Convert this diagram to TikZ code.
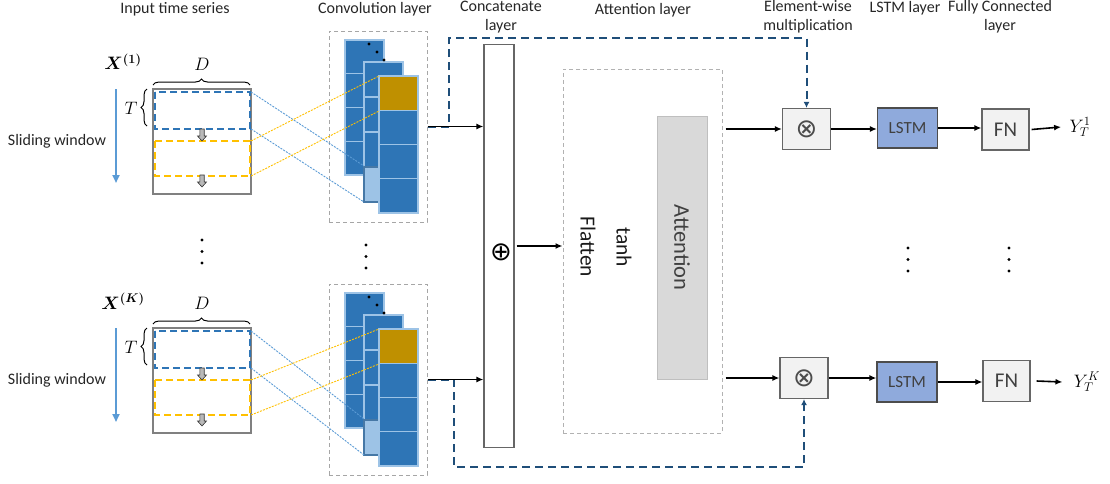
\RequirePackage{fix-cm}
\documentclass[tikz,border=0pt]{standalone}
\usepackage{fontspec}
\setmainfont{Carlito}
\newfontfamily\opsymfont{DejaVu Sans}
\usepackage{bm}
\usetikzlibrary{arrows.meta,decorations.pathreplacing,calc}

\definecolor{fmblue}{HTML}{2E75B6}
\definecolor{fmedge}{HTML}{9DC3E6}
\definecolor{fmlite}{HTML}{9DC3E6}
\definecolor{fmgold}{HTML}{BF9000}
\definecolor{winyel}{HTML}{FFC000}
\definecolor{slideblue}{HTML}{5B9BD5}
\definecolor{skipblue}{HTML}{1F4E79}
\definecolor{lstmblue}{HTML}{8FAADC}
\definecolor{opfill}{HTML}{F2F2F2}
\definecolor{attfill}{HTML}{D9D9D9}

\tikzset{
  hdr/.style={font=\fontsize{16}{19}\selectfont, align=center, text=black!85},
  varlbl/.style={font=\fontsize{18}{18}\selectfont},
  window/.style={draw=gray, line width=2.5pt},
  winb/.style={draw=fmblue, line width=1.6pt, dash pattern=on 7pt off 4pt},
  winy/.style={draw=winyel, line width=1.6pt, dash pattern=on 7pt off 4pt},
  slide/.style={draw=slideblue, line width=2pt, -{Triangle[length=8pt,width=7pt]}},
  brace/.style={decorate, decoration={brace, amplitude=6pt}, line width=1pt},
  fmcell/.style={fill=fmblue, draw=fmedge, line width=1.2pt},
  fmlight/.style={fill=fmlite, draw=fmblue!70!gray, line width=1.2pt},
  fmtop/.style={fill=fmgold, draw=fmedge, line width=1.2pt},
  blink/.style={draw=slideblue, line width=0.9pt, dash pattern=on 2pt off 1.2pt},
  ylink/.style={draw=winyel, line width=0.9pt, dash pattern=on 2pt off 1.2pt},
  convbox/.style={draw=gray!70, line width=1pt, dash pattern=on 4pt off 3pt,
    minimum width=98pt, minimum height=191pt},
  catbox/.style={draw=gray!80!black, line width=1.2pt, fill=white,
    minimum width=30pt, minimum height=403pt},
  attbox/.style={draw=gray!60, line width=1pt, dash pattern=on 4pt off 3pt,
    minimum width=159pt, minimum height=364pt},
  attin/.style={fill=attfill, draw=gray!50, line width=1pt, rotate=-90,
    minimum width=263pt, minimum height=50pt, text=black!75,
    font=\fontsize{22.5}{22.5}\selectfont},
  rot/.style={rotate=-90, font=\fontsize{21.5}{21.5}\selectfont, text=black!90},
  opsym/.style={font=\opsymfont\fontsize{26}{26}\selectfont},
  opbox/.style={fill=opfill, draw=gray!80!black, line width=1.2pt,
    minimum width=48pt, minimum height=41pt, text=black!75,
    font=\fontsize{21}{21}\selectfont},
  lstmbox/.style={fill=lstmblue, draw=black!70, line width=1.2pt,
    minimum width=60pt, minimum height=40pt, text=black!75,
    font=\fontsize{17}{17}\selectfont},
  conn/.style={line width=1.6pt, -{Latex[length=7pt,width=6pt]}},
  skip/.style={draw=skipblue, line width=2pt, dash pattern=on 8pt off 5pt,
    -{Latex[length=6pt,width=6pt]}},
  pics/dnarrow/.style={code={
    \draw[fill=gray!55, draw=gray!40!black, line width=0.6pt]
      (-2.2,-6) -- (2.2,-6) -- (2.2,1) -- (4.5,1) -- (0,6) -- (-4.5,1) -- (-2.2,1) -- cycle;}}
}

\begin{document}
\begin{tikzpicture}[x=1pt, y=-1pt]
\useasboundingbox (0,0) rectangle (1110,483);

% headers
\node[hdr] (hin) at (175,9) {Input time series};
\node[hdr] (hconv) at (375,9) {Convolution layer};
\node[hdr] (hcat) at (501,17) {Concatenate\\layer};
\node[hdr] (hatt) at (643,10) {Attention layer};
\node[hdr] (hmul) at (808,17) {Element-wise\\multiplication};
\node[hdr] (hlstm) at (905,8) {LSTM layer};
\node[hdr] (hfc) at (1000,17) {Fully Connected\\layer};

% concatenate bar
\node[catbox] (cat) at (499,246) {};
\node[opsym] (plus) at (501,252) {⊕};

% input windows and conv maps
\foreach \k/\di/\dc in {1/0/0, K/239/253}{
  \begin{scope}[yshift=-\di pt]
    \node[hdr] (sw\k) at (57,141) {Sliding window};
    \draw[slide] (116,89) -- (116,183);
    \node[varlbl] (x\k) at (123,62) {$\bm{X^{(\k)}}$};
    \node[varlbl] (d\k) at (202,64) {$D$};
    \draw[brace] (153,85) -- (250,85);
    \draw[window] (153,89) rectangle (251,194);
    \draw[winb] (155,92) rectangle (250,129);
    \draw[winy] (155,141) rectangle (250,176);
    \draw[brace] (147,126) -- (147,89);
    \node[varlbl] (t\k) at (131,108) {$T$};
    \pic at (202,135) {dnarrow};
    \pic at (202,181) {dnarrow};
    \coordinate (wa\k) at (251,92);
    \coordinate (wb\k) at (251,129);
    \coordinate (wc\k) at (251,141);
    \coordinate (wd\k) at (251,176);
  \end{scope}
  \begin{scope}[yshift=-\dc pt]
    \node[convbox] (conv\k) at (378,126.5) {};
    \foreach \yy in {40,73.75,107.5,141.25}
      \draw[fmcell] (345,\yy) rectangle +(39,33.75);
    \foreach \yy in {62,97,132}
      \draw[fmcell] (364,\yy) rectangle +(39,35);
    \draw[fmlight] (364,167) rectangle +(39,35);
    \draw[fmtop] (379,76) rectangle +(39,34.25);
    \foreach \yy in {110.25,144.5,178.75}
      \draw[fmcell] (379,\yy) rectangle +(39,34.25);
    \fill (369,44) circle (1.7pt) (377,52) circle (1.7pt) (384,60) circle (1.7pt);
    \coordinate (ca\k) at (364,166);
    \coordinate (cb\k) at (364,202);
    \coordinate (cc\k) at (379,76);
    \coordinate (cd\k) at (379,111);
  \end{scope}
  \draw[blink] (wa\k) -- (ca\k);
  \draw[blink] (wb\k) -- (cb\k);
  \draw[ylink] (wc\k) -- (cc\k);
  \draw[ylink] (wd\k) -- (cd\k);
}

% vertical dots
\foreach \xx/\yy in {202/240, 366/245, 908/248, 1009/248}
  \fill (\xx,\yy) circle (1.7pt) (\xx,\yy+11.5) circle (1.7pt) (\xx,\yy+23) circle (1.7pt);

% attention layer
\node[attbox] (att) at (642.5,251) {};
\node[rot] (flat) at (588,247) {Flatten};
\node[rot] (tanh) at (624,247) {tanh};
\node[attin] (attn) at (682,247.5) {Attention};

% right part
\node[opbox, opsym, text=black!70] (mul1) at (806.5,129) {⊗};
\node[lstmbox] (lstm1) at (907.5,128) {LSTM};
\node[opbox, minimum width=47pt] (fn1) at (1005.5,129.5) {FN};
\node[varlbl] (y1) at (1080,127) {$Y_T^1$};
\node[opbox, opsym, text=black!70] (mulK) at (804,378) {⊗};
\node[lstmbox] (lstmK) at (907,382) {LSTM};
\node[opbox, minimum width=47pt] (fnK) at (1006.5,381) {FN};
\node[varlbl] (yK) at (1087,382) {$Y_T^K$};

% skip connections
\draw[skip] (conv1.east) -- (449,126.5) |- (806.5,38) -- (mul1.north);
\draw[skip] (convK.east) -- (454,379.5) |- (804,467) -- (mulK.south);

% connectors
\draw[conn] (conv1.east) -- (conv1.east -| cat.west);
\draw[conn] (convK.east) -- (convK.east -| cat.west);
\draw[conn] ($(cat.east)+(2,0)$) -- (att.west |- cat.east);
\draw[conn] ($(att.east |- mul1.west)+(3,0)$) -- (mul1.west);
\draw[conn] ($(att.east |- mulK.west)+(3,0)$) -- (mulK.west);
\draw[conn] (mul1.east) -- (mul1.east -| lstm1.west);
\draw[conn] (mulK.east) -- (mulK.east -| lstmK.west);
\draw[conn] (lstm1.east) -- (lstm1.east -| fn1.west);
\draw[conn] (lstmK.east) -- (lstmK.east -| fnK.west);
\draw[conn] ($(fn1.east)+(2,0)$) -- ($(y1.west)+(-5,0)$);
\draw[conn] ($(fnK.east)+(6,0)$) -- ($(yK.west)+(-8,0)$);
\end{tikzpicture}
\end{document}
